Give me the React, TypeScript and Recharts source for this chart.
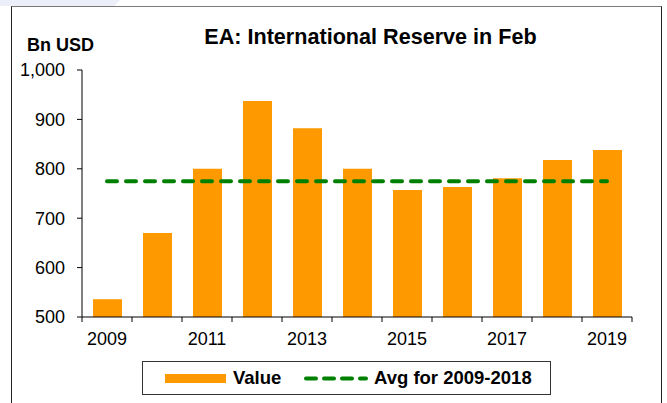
import { Bar, ComposedChart, Line, XAxis, YAxis } from "recharts";

const years = ["2009", "2010", "2011", "2012", "2013", "2014", "2015", "2016", "2017", "2018", "2019"];
const reserves = [536, 670, 800, 937, 882, 800, 757, 763, 781, 818, 838];
const avgValues = [775, 775, 775, 775, 775, 775, 775, 775, 775, 775, 775];
const yTicks = [500, 600, 700, 800, 900, 1000];

const data = years.map((year, i) => ({ year, value: reserves[i], avg: avgValues[i] }));

const ORANGE = "#FF9900";
const GREEN = "#008000";
const FONT = "Arial, 'Liberation Sans', sans-serif";

// plot area: x 82..632, y 70..317
const PLOT_W = 550;
const BAND = PLOT_W / years.length;

type TickProps = { x: number; y: number; index: number; payload: { value: string } };

function YearTick({ x, y, index, payload }: TickProps) {
  const half = BAND / 2;
  const isLast = index === years.length - 1;
  return (
    <g>
      <line x1={x - half} y1={y} x2={x - half} y2={y + 5} stroke="#000" />
      {isLast && <line x1={x + half} y1={y} x2={x + half} y2={y + 5} stroke="#000" />}
      {index % 2 === 0 && (
        <text x={x} y={y + 28} textAnchor="middle" fontSize={18} fontFamily={FONT} fill="#000">
          {payload.value}
        </text>
      )}
    </g>
  );
}

export default function App() {
  return (
    <div
      style={{
        position: "absolute",
        left: 0,
        top: 0,
        width: 667,
        height: 403,
        overflow: "hidden",
        background: "#fff",
      }}
    >
      <div
        style={{
          position: "absolute",
          left: 0,
          top: 0,
          width: 120,
          height: 6,
          background: "#eceefa",
          clipPath: "polygon(0 0, 100% 0, 95% 100%, 0 100%)",
        }}
      />
      <div
        style={{
          position: "absolute",
          left: 11,
          top: 6,
          width: 649,
          height: 430,
          borderTop: "1.5px solid #7a7a7a",
          borderLeft: "1.5px solid #222",
          borderRight: "1.5px solid #222",
        }}
      />
      <div style={{ position: "absolute", left: 0, top: 0 }}>
        <ComposedChart
          width={667}
          height={403}
          data={data}
          margin={{ top: 70, right: 35, bottom: 56, left: 0 }}
        >
          <XAxis
            dataKey="year"
            interval={0}
            height={30}
            tickSize={0}
            tickMargin={0}
            tickLine={false}
            axisLine={{ stroke: "#000" }}
            tick={(p: TickProps) => <YearTick {...p} />}
          />
          <YAxis
            width={82}
            domain={[500, 1000]}
            ticks={yTicks}
            allowDataOverflow
            tickSize={5}
            tickMargin={12}
            axisLine={{ stroke: "#000" }}
            tickLine={{ stroke: "#000" }}
            tick={{ fontSize: 18, fontFamily: FONT, fill: "#000" }}
            tickFormatter={(v: number) => v.toLocaleString("en-US")}
          />
          <Bar dataKey="value" fill={ORANGE} barSize={29} isAnimationActive={false} />
          <Line
            dataKey="avg"
            stroke={GREEN}
            strokeWidth={4}
            strokeDasharray="10 9"
            strokeLinecap="round"
            dot={false}
            activeDot={false}
            type="linear"
            isAnimationActive={false}
          />
        </ComposedChart>
      </div>
      <svg
        width={667}
        height={403}
        style={{ position: "absolute", left: 0, top: 0, pointerEvents: "none" }}
        fontFamily={FONT}
      >
        <text x={370.5} y={43.5} textAnchor="middle" fontSize={21.6} fontWeight="bold" fill="#000">
          EA: International Reserve in Feb
        </text>
        <text x={27} y={51} fontSize={18} fontWeight="bold" fill="#000">
          Bn USD
        </text>
        <rect x={142.5} y={361.5} width={408} height={33} fill="#fff" stroke="#333" strokeWidth={1} />
        <rect x={165} y={374} width={61} height={9} fill={ORANGE} />
        <text x={233} y={383.5} fontSize={18.5} fontWeight="bold" fill="#000">
          Value
        </text>
        <line
          x1={306}
          y1={378.5}
          x2={366}
          y2={378.5}
          stroke={GREEN}
          strokeWidth={4}
          strokeDasharray="10 8"
          strokeLinecap="round"
        />
        <text x={374} y={383.5} fontSize={18.5} fontWeight="bold" fill="#000">
          Avg for 2009-2018
        </text>
      </svg>
    </div>
  );
}
